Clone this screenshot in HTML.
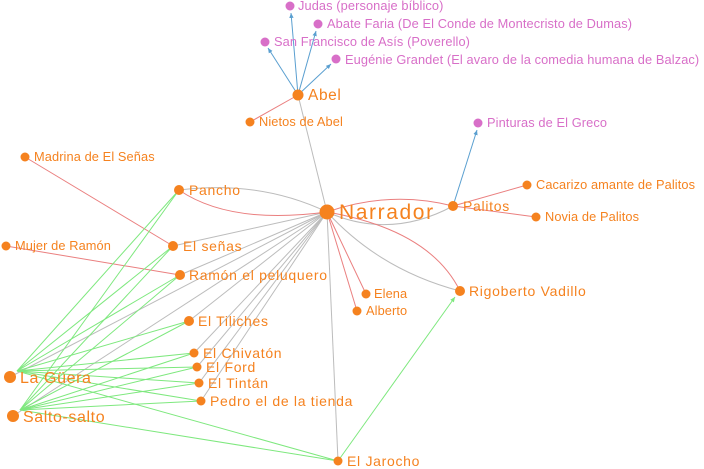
<!DOCTYPE html>
<html><head><meta charset="utf-8"><style>
html,body{margin:0;padding:0;background:#fff;}
svg{display:block;font-family:"Liberation Sans",sans-serif;}
.o{fill:#f5821f}.p{fill:#d86fc8}
text.o{font-size:12.8px;letter-spacing:0.1px}text.p{font-size:12.8px;letter-spacing:0.1px}
text.m{font-size:14px;letter-spacing:0.7px}
</style></head><body>
<svg width="704" height="469" viewBox="0 0 704 469">
<defs>
<marker id="ab" markerWidth="6" markerHeight="6" refX="5" refY="3" orient="auto"><path d="M0,0.8 L5,3 L0,5.2z" fill="#5a9fd0"/></marker>
<marker id="ag" markerWidth="6" markerHeight="6" refX="5" refY="3" orient="auto"><path d="M0,0.8 L5,3 L0,5.2z" fill="#7ee87e"/></marker>
</defs>
<g stroke="#bcbcbc" stroke-width="1" fill="none">
<line x1="327" y1="212" x2="298" y2="95"/>
<path d="M327,212 Q260,180 179,190"/>
<line x1="327" y1="212" x2="173" y2="246"/>
<line x1="327" y1="212" x2="180" y2="275"/>
<line x1="327" y1="212" x2="189" y2="321"/>
<line x1="327" y1="212" x2="194" y2="353"/>
<line x1="327" y1="212" x2="197" y2="367"/>
<line x1="327" y1="212" x2="199" y2="383"/>
<line x1="327" y1="212" x2="201" y2="401"/>
<line x1="327" y1="212" x2="10" y2="377"/>
<line x1="327" y1="212" x2="13" y2="416"/>
<line x1="327" y1="212" x2="338" y2="461"/>
<path d="M327,212 Q390,240 453,206"/>
<path d="M327,212 Q380,270 460,291"/>
</g>
<g stroke="#ea7f7f" stroke-width="1" fill="none">
<path d="M327,212 Q230,225 179,190"/>
<path d="M327,212 Q390,190 453,206"/>
<path d="M327,212 Q430,230 460,291"/>
<line x1="327" y1="212" x2="366" y2="294"/>
<line x1="327" y1="212" x2="357" y2="311"/>
<line x1="25" y1="157" x2="173" y2="246"/>
<line x1="6" y1="246" x2="180" y2="275"/>
<line x1="298" y1="95" x2="250" y2="122"/>
<line x1="453" y1="206" x2="527" y2="185"/>
<line x1="453" y1="206" x2="536" y2="217"/>
</g>
<g stroke="#7ee87e" stroke-width="1" fill="none">
<line x1="17" y1="371" x2="179" y2="190"/><line x1="20" y1="410" x2="179" y2="190"/>
<line x1="17" y1="371" x2="173" y2="246"/><line x1="20" y1="410" x2="173" y2="246"/>
<line x1="17" y1="371" x2="180" y2="275"/><line x1="20" y1="410" x2="180" y2="275"/>
<line x1="17" y1="371" x2="189" y2="321"/><line x1="20" y1="410" x2="189" y2="321"/>
<line x1="17" y1="371" x2="194" y2="353"/><line x1="20" y1="410" x2="194" y2="353"/>
<line x1="17" y1="371" x2="197" y2="367"/><line x1="20" y1="410" x2="197" y2="367"/>
<line x1="17" y1="371" x2="199" y2="383"/><line x1="20" y1="410" x2="199" y2="383"/>
<line x1="17" y1="371" x2="201" y2="401"/><line x1="20" y1="410" x2="201" y2="401"/>
<line x1="17" y1="371" x2="338" y2="461"/><line x1="20" y1="410" x2="338" y2="461"/>
<line x1="338" y1="461" x2="455" y2="297" marker-end="url(#ag)"/>
</g>
<g stroke="#5a9fd0" stroke-width="1" fill="none">
<line x1="298" y1="95" x2="291" y2="13" marker-end="url(#ab)"/>
<line x1="298" y1="95" x2="316" y2="31" marker-end="url(#ab)"/>
<line x1="298" y1="95" x2="268" y2="48" marker-end="url(#ab)"/>
<line x1="298" y1="95" x2="331" y2="64" marker-end="url(#ab)"/>
<line x1="453" y1="206" x2="477" y2="130" marker-end="url(#ab)"/>
</g>
<g>
<circle class="p" cx="290" cy="6" r="4.5"/><text class="p" x="298" y="10">Judas (personaje bíblico)</text>
<circle class="p" cx="318" cy="24" r="4.5"/><text class="p" x="327" y="28">Abate Faria (De El Conde de Montecristo de Dumas)</text>
<circle class="p" cx="265" cy="42" r="4.5"/><text class="p" x="274" y="46">San Francisco de Asís (Poverello)</text>
<circle class="p" cx="336" cy="59" r="4.5"/><text class="p" x="345" y="64">Eugénie Grandet (El avaro de la comedia humana de Balzac)</text>
<circle class="p" cx="478" cy="123" r="4.5"/><text class="p" x="487" y="127">Pinturas de El Greco</text>
<circle class="o" cx="298" cy="95" r="5.5"/><text class="o" x="308" y="100" style="font-size:15.5px;letter-spacing:0.6px">Abel</text>
<circle class="o" cx="250" cy="122" r="4.5"/><text class="o" x="259" y="126">Nietos de Abel</text>
<circle class="o" cx="25" cy="157" r="4.5"/><text class="o" x="34" y="161">Madrina de El Señas</text>
<circle class="o" cx="179" cy="190" r="5"/><text class="o m" x="189" y="195">Pancho</text>
<circle class="o" cx="327" cy="212" r="7.5"/><text class="o" x="339" y="219" style="font-size:21px;letter-spacing:1.6px">Narrador</text>
<circle class="o" cx="453" cy="206" r="5"/><text class="o m" x="463" y="211">Palitos</text>
<circle class="o" cx="527" cy="185" r="4.5"/><text class="o" x="536" y="189">Cacarizo amante de Palitos</text>
<circle class="o" cx="536" cy="217" r="4.5"/><text class="o" x="545" y="221">Novia de Palitos</text>
<circle class="o" cx="6" cy="246" r="4.5"/><text class="o" x="15" y="250">Mujer de Ramón</text>
<circle class="o" cx="173" cy="246" r="5"/><text class="o m" x="183" y="251">El señas</text>
<circle class="o" cx="180" cy="275" r="5"/><text class="o m" x="189" y="280">Ramón el peluquero</text>
<circle class="o" cx="366" cy="294" r="4.5"/><text class="o" x="374" y="298">Elena</text>
<circle class="o" cx="357" cy="311" r="4.5"/><text class="o" x="366" y="315">Alberto</text>
<circle class="o" cx="460" cy="291" r="5"/><text class="o m" x="469" y="296">Rigoberto Vadillo</text>
<circle class="o" cx="189" cy="321" r="5"/><text class="o m" x="198" y="326">El Tiliches</text>
<circle class="o" cx="194" cy="353" r="4.5"/><text class="o m" x="203" y="358">El Chivatón</text>
<circle class="o" cx="197" cy="367" r="4.5"/><text class="o m" x="206" y="372">El Ford</text>
<circle class="o" cx="199" cy="383" r="4.5"/><text class="o m" x="208" y="388">El Tintán</text>
<circle class="o" cx="201" cy="401" r="4.5"/><text class="o m" x="210" y="406">Pedro el de la tienda</text>
<circle class="o" cx="10" cy="377" r="6"/><text class="o" x="20" y="383" style="font-size:16px;letter-spacing:0.6px">La Güera</text>
<circle class="o" cx="13" cy="416" r="6"/><text class="o" x="23" y="422" style="font-size:16px;letter-spacing:0.6px">Salto-salto</text>
<circle class="o" cx="338" cy="461" r="4.5"/><text class="o m" x="347" y="466">El Jarocho</text>
</g>
</svg>
</body></html>
